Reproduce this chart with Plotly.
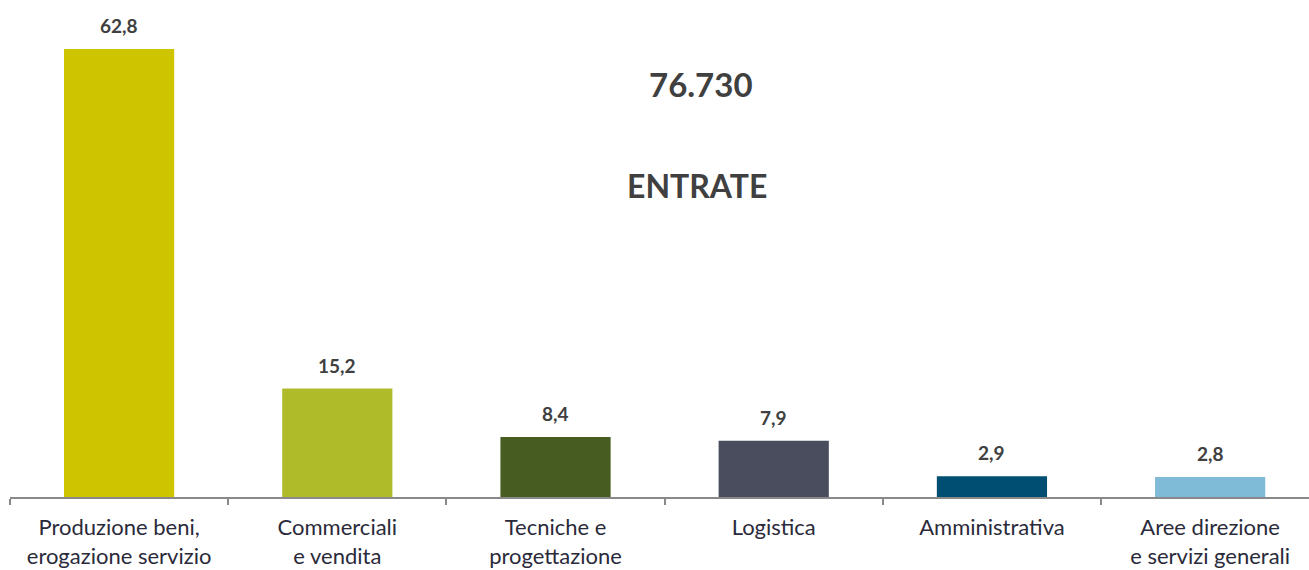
import plotly.graph_objects as go

categories = ["Produzione beni,<br>erogazione servizio", "Commerciali<br>e vendita",
              "Tecniche e<br>progettazione", "Logistica", "Amministrativa",
              "Aree direzione<br>e servizi generali"]
values = [62.8, 15.2, 8.4, 7.9, 2.9, 2.8]
colors = ["#CFC400", "#B0BB2A", "#475C20", "#4A4D5E", "#004F72", "#7FBBD6"]
total_label = "76.730"
subtitle = "ENTRATE"

font_family = "Lato, 'Open Sans', sans-serif"
txt_color = "#404040"

fig = go.Figure()
fig.add_trace(go.Bar(x=categories, y=values, marker_color=colors, marker_line_width=0,
                     width=0.505, hoverinfo="skip"))

# value labels above the bars
for c, v in zip(categories, values):
    fig.add_annotation(x=c, y=v, text="<b>" + f"{v:.1f}".replace(".", ",") + "</b>",
                       showarrow=False, yanchor="bottom", yshift=10,
                       font=dict(family=font_family, size=19, color=txt_color))

fig.add_annotation(xref="paper", yref="paper", x=0.532, y=0.831, yanchor="middle",
                   text="<b>" + total_label + "</b>",
                   showarrow=False, font=dict(family=font_family, size=33, color=txt_color))
fig.add_annotation(xref="paper", yref="paper", x=0.529, y=0.626, yanchor="middle",
                   text="<b>" + subtitle + "</b>",
                   showarrow=False, font=dict(family=font_family, size=32, color=txt_color))

fig.update_xaxes(range=[-0.5, 5.453], showline=True, linecolor="#898989", linewidth=2,
                 ticks="outside", tickson="boundaries", ticklen=6, tickcolor="#898989", tickwidth=2,
                 tickfont=dict(family=font_family, size=22, color="#2a2a3a"), showgrid=False,
                 ticklabelstandoff=10, automargin=False)
fig.update_yaxes(range=[0, 69.67], visible=False, showgrid=False, zeroline=False, automargin=False)
fig.update_layout(width=1309, height=570, margin=dict(l=10, r=0, t=0, b=73),
                  plot_bgcolor="white", paper_bgcolor="white", showlegend=False, bargap=0.5)
# drop the default page margin so the figure sits at the window corner
fig.write_html("out.html", config={"displayModeBar": False},
               post_script="document.body.style.margin='0';")
